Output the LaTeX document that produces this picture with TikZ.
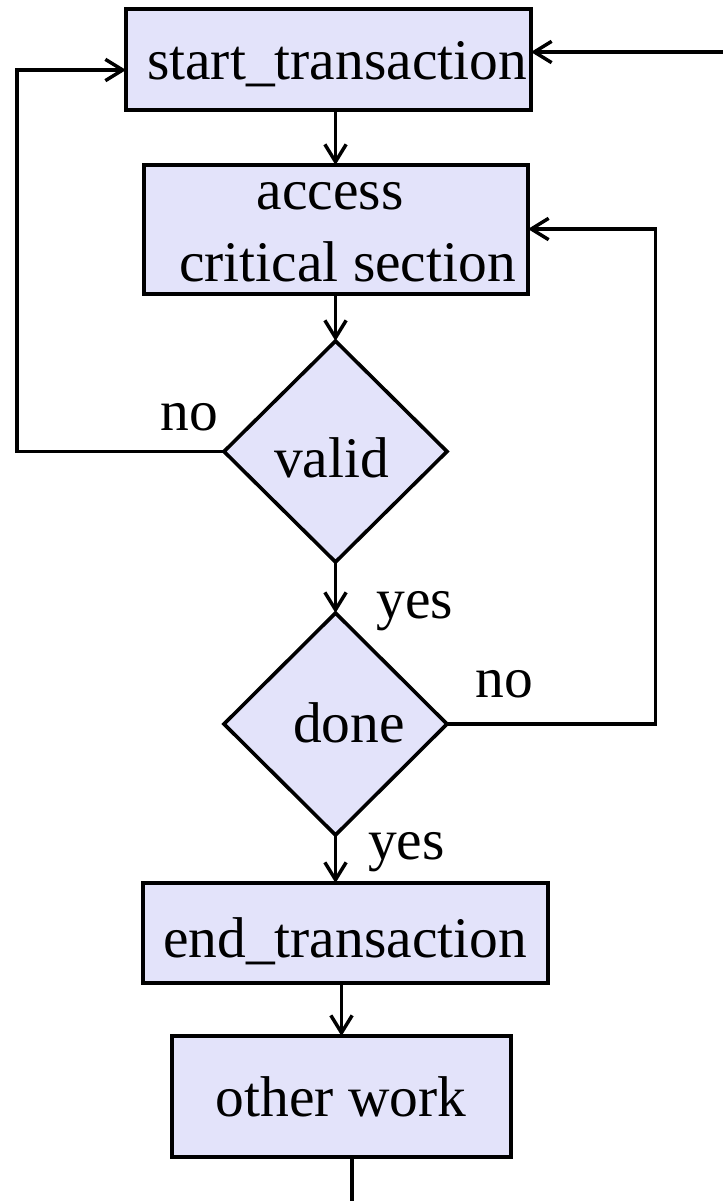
\documentclass[tikz,border=0pt]{standalone}
\usepackage{fontspec}
\setmainfont{Liberation Serif}
\usetikzlibrary{shapes.geometric,arrows.meta}
\definecolor{boxfill}{RGB}{227,227,250}
\tikzset{
  boxnode/.style={draw=black, fill=boxfill, line width=2.8pt, rectangle, inner sep=0pt, outer sep=0pt},
  decnode/.style={draw=black, fill=boxfill, line width=2.7pt, diamond, inner sep=0pt, outer sep=0pt},
  txt/.style={anchor=base, inner sep=0pt, font=\fontsize{43.1pt}{50pt}\selectfont},
  conn/.style={draw=black, line width=2.6pt},
  arr/.style={conn, -{Straight Barb[length=13pt,width=16pt,line width=2.6pt]}},
}
\begin{document}
\begin{tikzpicture}[x=0.75pt,y=-0.75pt]
\useasboundingbox (0,0) rectangle (723,1201);
% boxes
\node[boxnode, minimum width=303.75pt, minimum height=75.75pt] (start) at (328.5,59.5) {};
\node[boxnode, minimum width=288pt, minimum height=96.75pt] (access) at (336,229.5) {};
\node[decnode, minimum width=167.25pt, minimum height=165.75pt] (valid) at (335.5,451.5) {};
\node[decnode, minimum width=167.25pt, minimum height=166.5pt] (done) at (335.5,724) {};
\node[boxnode, minimum width=303.75pt, minimum height=75pt] (end) at (345.5,933) {};
\node[boxnode, minimum width=254.25pt, minimum height=90.75pt] (other) at (341.5,1096.5) {};
% texts
\node[txt] (startT) at (337,80) {start\_transaction};
\node[txt] (accessT1) at (330,210) {access};
\node[txt] (accessT2) at (347.5,282) {critical section};
\node[txt] (validT) at (331.5,477) {valid};
\node[txt] (doneT) at (349,742) {done};
\node[txt] (endT) at (345,957) {end\_transaction};
\node[txt] (otherT) at (341,1116) {other work};
% labels
\node[txt] (no1) at (189.5,430) {no};
\node[txt] (yes1) at (415,618) {yes};
\node[txt] (no2) at (504,697) {no};
\node[txt] (yes2) at (406.5,859) {yes};
% helper coordinates
\coordinate (L) at (17,70);
\coordinate (R) at (723,52);
\coordinate (R2) at (655.5,229);
\coordinate (bot) at (352,1201);
% connectors
\draw[arr] (start.south -| valid.north) -- (access.north -| valid.north);
\draw[arr] (access.south -| valid.north) -- (valid.north);
\draw[arr] (valid.south) -- (done.north);
\draw[arr] (done.south) -- (done.south |- end.north);
\draw[arr] (other.north |- end.south) -- (other.north);
\draw[conn] (other.south -| bot) -- (bot);
\draw[arr] (valid.west) -| (L) -- (L -| start.west);
\draw[arr] (R) -- (R -| start.east);
\draw[arr] (done.east) -| (R2) -- (R2 -| access.east);
\end{tikzpicture}
\end{document}
